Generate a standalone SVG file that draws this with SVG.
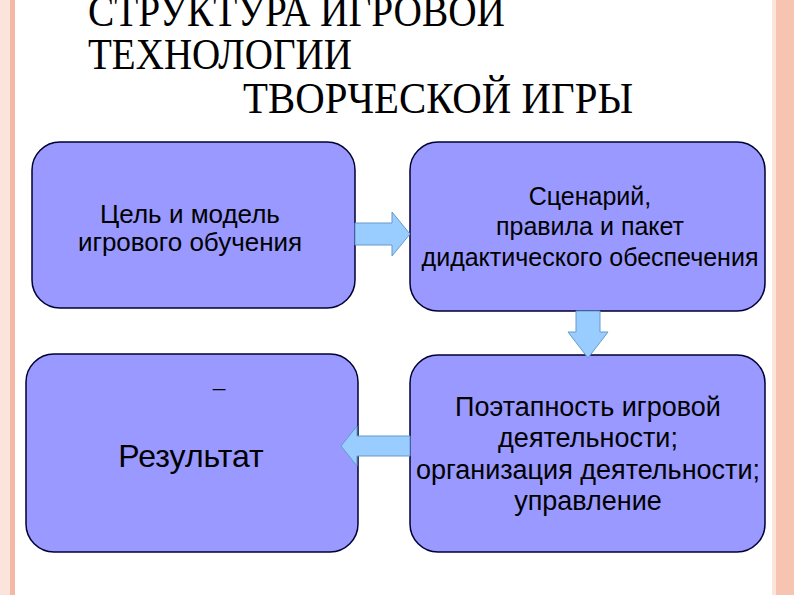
<svg xmlns="http://www.w3.org/2000/svg" width="794" height="595" viewBox="0 0 794 595">
<style>
.t{font-family:"Liberation Serif",serif;font-size:45px;fill:#000}
.b{fill:#9999ff;stroke:#000033;stroke-width:1.5}
.l{font-family:"Liberation Sans",sans-serif;fill:#000;text-anchor:middle}
.a{fill:#99ccff;stroke:#6699cc;stroke-width:1}
</style>
<rect width="794" height="595" fill="#fff"/>
<rect x="0" y="0" width="10" height="595" fill="#fbe4dc"/>
<rect x="10" y="0" width="5" height="595" fill="#f4b8a4"/>
<rect x="776" y="0" width="18" height="595" fill="#f6c4b0"/>
<rect x="772" y="0" width="4" height="595" fill="#fbe4dc"/>
<text class="t" x="88" y="26" textLength="417" lengthAdjust="spacingAndGlyphs">СТРУКТУРА ИГРОВОЙ</text>
<text class="t" x="88" y="69" textLength="264" lengthAdjust="spacingAndGlyphs">ТЕХНОЛОГИИ</text>
<text class="t" x="243" y="113" textLength="390" lengthAdjust="spacingAndGlyphs">ТВОРЧЕСКОЙ ИГРЫ</text>
<g id="n1"><rect class="b" x="32" y="142" width="323" height="166" rx="28"/>
<text class="l" font-size="26" x="190" y="223">Цель и модель</text>
<text class="l" font-size="26" x="190" y="251">игрового обучения</text></g>
<g id="n2"><rect class="b" x="410" y="142" width="355" height="169" rx="28"/>
<text class="l" font-size="25" x="590" y="205">Сценарий,</text>
<text class="l" font-size="25" x="590" y="235">правила и пакет</text>
<text class="l" font-size="25" x="590" y="266">дидактического обеспечения</text></g>
<g id="n3"><rect class="b" x="26" y="354" width="332" height="198" rx="28"/>
<text class="l" font-size="22" x="219" y="386">_</text>
<text class="l" font-size="32" x="191" y="467">Результат</text></g>
<g id="n4"><rect class="b" x="410" y="355" width="355" height="197" rx="28"/>
<text class="l" font-size="27" x="588" y="416">Поэтапность игровой</text>
<text class="l" font-size="27" x="588" y="447">деятельности;</text>
<text class="l" font-size="27" x="588" y="479">организация деятельности;</text>
<text class="l" font-size="27" x="588" y="510">управление</text></g>
<g id="connectors">
<polygon class="a" points="355,223 392,223 392,212 410,234 392,256 392,245 355,245"/>
<polygon class="a" points="576,311 600,311 600,332 608,332 588,358 568,332 576,332"/>
<polygon class="a" points="410,436 357,436 357,426 341,446 357,466 357,456 410,456"/>
</g>
</svg>
